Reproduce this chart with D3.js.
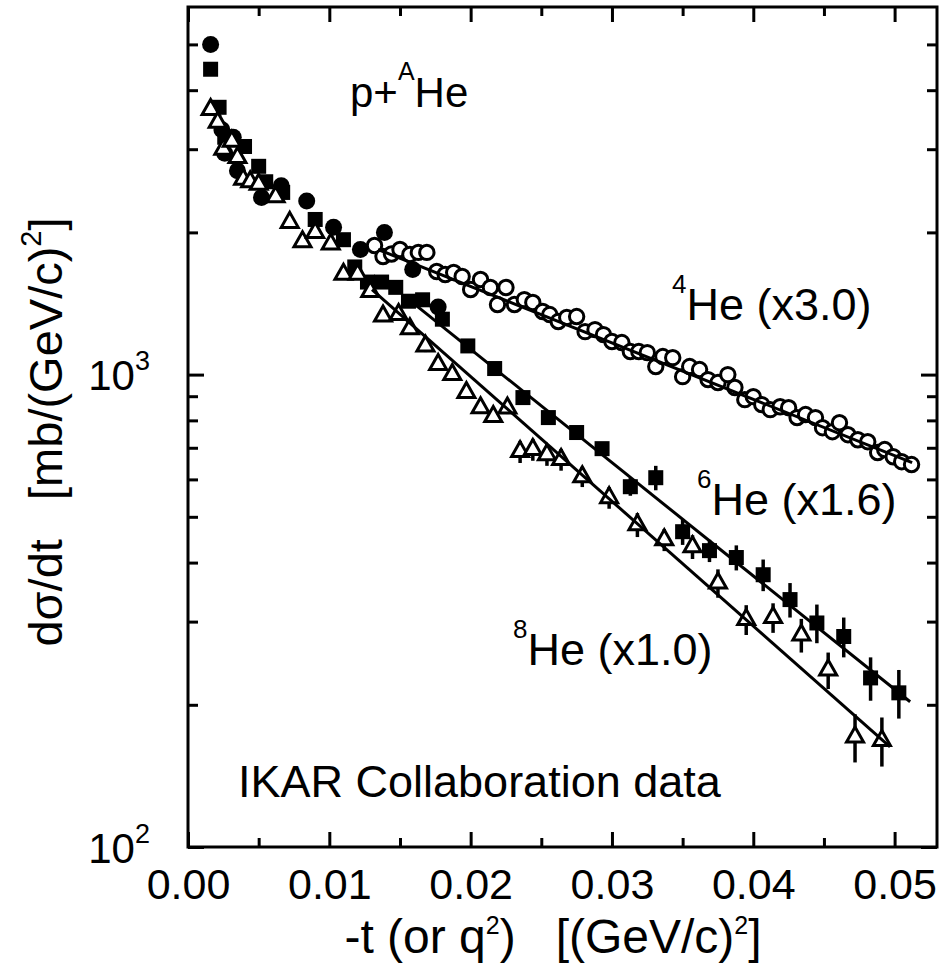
<!DOCTYPE html>
<html>
<head>
<meta charset="utf-8">
<script src="https://cdn.jsdelivr.net/npm/d3@7"></script>
<style>
  body { margin: 0; background: #fff; }
  svg text { font-family: "Liberation Sans", Arial, sans-serif; fill: #000; white-space: pre; }
</style>
</head>
<body>
<svg id="chart" width="944" height="976"></svg>
<script>
// p + 4He, filled circles (low t)
const tCirc = [0.0016, 0.0024, 0.0026, 0.0032, 0.0035, 0.0052, 0.0066, 0.0084, 0.0103, 0.0122, 0.0139, 0.0159, 0.0177]
const yCirc = [5000, 3300, 2940, 3180, 2700, 2370, 2510, 2330, 2050, 1840, 2000, 1670, 1390]

// 6He (x1.6), filled squares
const t6 = [0.0016, 0.0022, 0.0026, 0.0040, 0.0050, 0.0055, 0.0067, 0.0090, 0.0110, 0.0118, 0.0127, 0.0137, 0.0147, 0.0156, 0.0166, 0.0180,
  0.0198, 0.0217, 0.0237, 0.0255, 0.0275, 0.0293, 0.0313, 0.0331, 0.0350, 0.0369, 0.0388, 0.0407, 0.0426, 0.0445, 0.0464, 0.0483, 0.0503]
const y6 = [4430, 3680, 3180, 3040, 2760, 2560, 2430, 2130, 1930, 1690, 1570, 1570, 1530, 1430, 1440, 1310,
  1150, 1030, 894, 811, 754, 697, 579, 605, 465, 424, 410, 377, 334, 298, 279, 228, 212]
const e6 = [60, 50, 45, 45, 40, 38, 36, 32, 29, 25, 24, 24, 23, 22, 22, 20,
  34, 31, 27, 24, 23, 21, 25, 36, 29, 23, 25, 29, 28, 28, 27, 24, 25]

// 8He (x1.0), open triangles
const t8 = [0.0016, 0.0021, 0.0025, 0.0031, 0.0035, 0.0039, 0.0044, 0.0050, 0.0062, 0.0072, 0.0081, 0.0090, 0.0101, 0.0110,
  0.0120, 0.0129, 0.0138, 0.0149, 0.0157, 0.0168, 0.0177, 0.0187, 0.0197, 0.0207, 0.0216, 0.0226, 0.0235, 0.0244,
  0.0254, 0.0264, 0.0279, 0.0298, 0.0318, 0.0337, 0.0357, 0.0375, 0.0395, 0.0414, 0.0434, 0.0453, 0.0472, 0.0491]
const y8 = [3640, 3420, 3000, 3120, 2880, 2590, 2560, 2530, 2380, 2100, 1910, 2000, 1890, 1630,
  1630, 1500, 1330, 1340, 1250, 1150, 1050, 1000, 916, 851, 815, 850, 687, 694,
  677, 661, 608, 549, 481, 447, 432, 362, 303, 306, 281, 237, 171, 168]
const e8 = [55, 51, 45, 47, 43, 39, 38, 38, 36, 32, 29, 30, 28, 24,
  24, 23, 20, 20, 19, 34, 31, 29, 27, 25, 24, 25, 37, 37,
  36, 35, 30, 29, 28, 24, 25, 25, 22, 22, 23, 21, 20, 20]

// 4He (x3.0), open circles
const t4 = [0.0132, 0.0138, 0.0144, 0.0150, 0.0157, 0.0163, 0.0169, 0.0176, 0.0182, 0.0188, 0.0194, 0.0200, 0.0207, 0.0214, 0.0219, 0.0225,
  0.0231, 0.0238, 0.0244, 0.0251, 0.0256, 0.0262, 0.0268, 0.0275, 0.0281, 0.0288, 0.0294, 0.0300, 0.0307, 0.0313, 0.0319,
  0.0325, 0.0331, 0.0336, 0.0343, 0.0350, 0.0355, 0.0362, 0.0368, 0.0375, 0.0382, 0.0387, 0.0394, 0.0400, 0.0406, 0.0412,
  0.0419, 0.0425, 0.0431, 0.0437, 0.0444, 0.0449, 0.0456, 0.0461, 0.0467, 0.0474, 0.0481, 0.0488, 0.0493, 0.0499, 0.0505, 0.0512]
const y4 = [1876, 1778, 1800, 1840, 1796, 1814, 1814, 1653, 1629, 1645, 1613, 1514, 1590, 1529, 1407, 1529,
  1407, 1441, 1421, 1360, 1340, 1295, 1321, 1327, 1233, 1245, 1215, 1175, 1169, 1119, 1119,
  1113, 1040, 1092, 1086, 990, 1040, 1025, 976, 962, 1000, 939, 885, 898, 864, 843,
  855, 851, 811, 823, 811, 772, 757, 791, 746, 728, 721, 684, 694, 670, 654, 645]

// exponential fits (4He, 6He, 8He): end points
const fitT0 = [0.01345, 0.01607, 0.01302]
const fitY0 = [1840, 1406, 1514]
const fitT1 = [0.05124, 0.0511, 0.04968]
const fitY1 = [651, 203, 163]

const xMajor = [0, 0.01, 0.02, 0.03, 0.04, 0.05]
const xMinor = [0.005, 0.015, 0.025, 0.035, 0.045]
const yMajor = [100, 1000]
const yMinor = [200, 300, 400, 500, 600, 700, 800, 900, 2000, 3000, 4000, 5000]

const svg = d3.select('#chart')
const x = d3.scaleLinear().domain([0, 0.053]).range([188, 937])
const y = d3.scaleLog().domain([100, 6000]).range([847, 7])

function axis(gen, tx, ty, vals, len, fmt, pad) {
    const g = svg.append('g')
        .attr('transform', `translate(${tx},${ty})`)
        .call(gen.tickValues(vals).tickSize(-len).tickSizeOuter(0).tickPadding(pad || 3).tickFormat(fmt || ''))
    g.select('.domain').remove()
    g.selectAll('line').attr('stroke', '#000').attr('stroke-width', 3)
    g.attr('font-family', null).attr('font-size', null)
    return g
}

axis(d3.axisBottom(x), 0, 847, xMinor, 9)
axis(d3.axisTop(x), 0, 7, xMinor, 9)
axis(d3.axisTop(x), 0, 7, xMajor, 15)
const gx = axis(d3.axisBottom(x), 0, 847, xMajor, 15, d3.format('.2f'), 21)
gx.selectAll('text').attr('font-size', 43)

axis(d3.axisLeft(y), 188, 0, yMinor, 10)
axis(d3.axisRight(y), 937, 0, yMinor, 10)
axis(d3.axisRight(y), 937, 0, yMajor, 16)
const gy = axis(d3.axisLeft(y), 188, 0, yMajor, 16)
gy.selectAll('.tick').each(function(d) {
    const t = d3.select(this).append('text')
        .attr('x', -38).attr('y', 15).attr('text-anchor', 'end')
    t.append('tspan').attr('font-size', 42).text('10')
    t.append('tspan').attr('font-size', 27).attr('dy', -20).text(Math.round(Math.log10(d)))
})

svg.append('rect')
    .attr('x', 188).attr('y', 7).attr('width', 749).attr('height', 840)
    .attr('fill', 'none').attr('stroke', '#000').attr('stroke-width', 3)

// labels with superscripts
function label(px, py, parts, rot) {
    const t = svg.append('text')
    if (rot) t.attr('transform', `translate(${px},${py}) rotate(-90)`).attr('text-anchor', 'middle')
    else t.attr('x', px).attr('y', py)
    let raised = 0
    parts.forEach(p => {
        const s = t.append('tspan').attr('font-size', p[1]).text(p[0])
        const r = p[2] || 0
        if (r !== raised) { s.attr('dy', raised - r); raised = r }
    })
    return t
}

label(553, 953, [['-t (or q', 48], ['2', 25, 19], [')   [(GeV/c)', 48], ['2', 25, 19], [']', 48]]).attr('text-anchor', 'middle')
label(62, 432, [['d\u03c3/dt   [mb/(GeV/c)', 47], ['2', 29, 21], [']', 47]], true)

label(350, 107, [['p+', 42], ['A', 25, 27], ['He', 42]])
label(672, 320, [['4', 26, 27], ['He (x3.0)', 45]])
label(697, 515, [['6', 26, 27], ['He (x1.6)', 45]])
label(513, 665, [['8', 26, 27], ['He (x1.0)', 45]])
label(238, 797, [['IKAR Collaboration data', 45]])

const plot = svg.append('g')

// error bars
function bars(ts, ys, es) {
    plot.append('g').selectAll('line').data(ts).join('line')
        .attr('x1', d => x(d)).attr('x2', d => x(d))
        .attr('y1', (d, i) => y(ys[i] + es[i]))
        .attr('y2', (d, i) => y(ys[i] - es[i]))
        .attr('stroke', '#000').attr('stroke-width', 3.5)
}
bars(t6, y6, e6)
bars(t8, y8, e8)

plot.append('g').selectAll('circle').data(tCirc).join('circle')
    .attr('cx', d => x(d)).attr('cy', (d, i) => y(yCirc[i])).attr('r', 8.5)
    .attr('fill', '#000')

plot.append('g').selectAll('rect').data(t6).join('rect')
    .attr('x', d => x(d) - 7.5).attr('y', (d, i) => y(y6[i]) - 7.5)
    .attr('width', 15).attr('height', 15).attr('fill', '#000')

const tri = 'M0,-10L8.5,5L-8.5,5Z'
plot.append('g').selectAll('path').data(t8).join('path')
    .attr('d', tri)
    .attr('transform', (d, i) => `translate(${x(d)},${y(y8[i])})`)
    .attr('fill', '#fff').attr('stroke', '#000').attr('stroke-width', 3)
    .attr('stroke-linejoin', 'miter')

plot.append('g').selectAll('circle').data(t4).join('circle')
    .attr('cx', d => x(d)).attr('cy', (d, i) => y(y4[i])).attr('r', 7.2)
    .attr('fill', '#fff').attr('stroke', '#000').attr('stroke-width', 3)

const line = d3.line().x(d => x(d[0])).y(d => y(d[1]))
fitT0.forEach((t0, i) => {
    plot.append('path')
        .attr('d', line([[t0, fitY0[i]], [fitT1[i], fitY1[i]]]))
        .attr('fill', 'none').attr('stroke', '#000').attr('stroke-width', 3)
})
</script>
</body>
</html>
